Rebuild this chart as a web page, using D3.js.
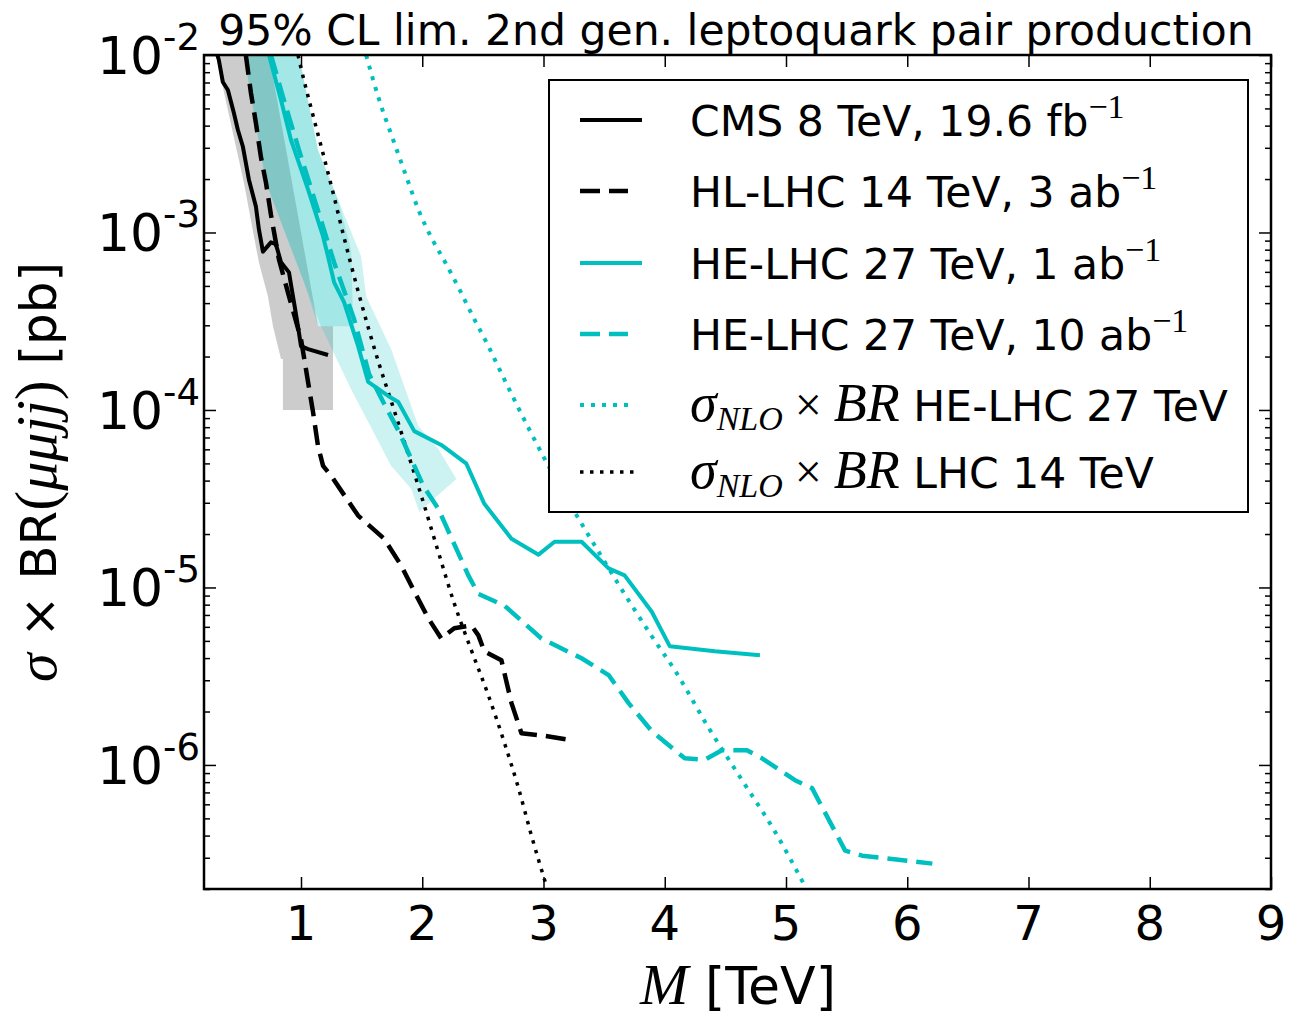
<!DOCTYPE html>
<html><head><meta charset="utf-8">
<script src="https://cdn.jsdelivr.net/npm/d3@7"></script>
<style>body{margin:0;background:#fff}svg{display:block}</style>
</head><body>
<svg id="c" width="1289" height="1016"></svg>
<script>
// ---------- data (M in TeV, sigma x BR in pb) ----------
const cmsMass  = [0.31,0.322,0.355,0.397,0.446,0.479,0.521,0.570,0.628,0.653,0.686,0.752,0.793,0.835,0.901,0.917,0.942,0.975,1.0,1.058,1.223];
const cmsLimit = [1.0e-2,9.4e-3,7.05e-3,6.35e-3,4.72e-3,3.79e-3,3.04e-3,1.99e-3,1.40e-3,1.04e-3,7.8e-4,8.8e-4,8.6e-4,6.8e-4,5.96e-4,5.1e-4,4.05e-4,2.96e-4,2.29e-4,2.20e-4,2.04e-4];

const hlMass  = [0.545,0.587,0.628,0.669,0.711,0.752,0.818,0.901,1.0,1.058,1.099,1.140,1.182,1.248,1.471,1.686,1.826,1.934,2.050,2.157,2.264,2.405,2.463,2.512,2.653,2.736,2.818,3.008,3.231];
const hlLimit = [1.0e-2,6.12e-3,4.15e-3,2.67e-3,1.91e-3,1.26e-3,7.05e-4,4.37e-4,2.51e-4,1.44e-4,9.75e-5,6.28e-5,4.84e-5,4.26e-5,2.54e-5,1.88e-5,1.33e-5,9.5e-6,6.7e-6,5.16e-6,5.89e-6,6.12e-6,5.37e-6,4.37e-6,3.89e-6,2.23e-6,1.51e-6,1.46e-6,1.38e-6];

const he1Mass  = [0.736,0.835,0.917,1.058,1.182,1.223,1.273,1.355,1.471,1.554,1.719,1.802,1.934,2.157,2.364,2.512,2.736,2.959,3.091,3.314,3.537,3.669,3.893,4.041,4.413,4.785];
const he1Limit = [1.0e-2,5.58e-3,3.33e-3,1.75e-3,9.5e-4,7.33e-4,5.24e-4,4.05e-4,2.29e-4,1.44e-4,1.20e-4,1.11e-4,7.6e-5,6.35e-5,4.98e-5,2.96e-5,1.88e-5,1.53e-5,1.81e-5,1.81e-5,1.28e-5,1.17e-5,7.3e-6,4.67e-6,4.37e-6,4.15e-6];

const he10Mass  = [0.752,0.851,0.983,1.124,1.273,1.438,1.562,1.678,1.810,2.008,2.132,2.380,2.463,2.678,2.983,3.314,3.537,3.702,3.893,4.165,4.331,4.471,4.678,4.802,5.074,5.215,5.488,5.628,6.207];
const he10Limit = [1.0e-2,5.81e-3,2.92e-3,1.44e-3,6.78e-4,3.24e-4,1.59e-4,1.11e-4,7.5e-5,3.74e-5,2.78e-5,1.17e-5,9.2e-6,7.9e-6,5.16e-6,3.99e-6,3.21e-6,2.23e-6,1.55e-6,1.09e-6,1.07e-6,1.21e-6,1.21e-6,1.09e-6,8.2e-7,7.4e-7,3.29e-7,3.08e-7,2.78e-7];

const xsec27Mass = [1.537,1.645,1.760,1.868,1.975,2.083,2.190,2.306,2.421,2.537,2.636,2.736,3.041,3.256,3.479,3.702,3.893,4.083,4.364,4.636,4.909,5.157];
const xsec27     = [1.0e-2,5.58e-3,3.33e-3,2.07e-3,1.31e-3,9.14e-4,6.78e-4,4.79e-4,3.33e-4,2.35e-4,1.70e-4,1.23e-4,4.84e-5,2.67e-5,1.49e-5,8.45e-6,5.31e-6,3.42e-6,1.61e-6,8.24e-7,4.21e-7,2.07e-7];

const xsec14Mass = [0.975,1.0,1.083,1.174,1.264,1.355,1.471,1.554,1.645,1.744,1.826,1.992,2.132,2.264,2.405,2.545,2.678,2.793,2.901,3.025];
const xsec14     = [1.0e-2,8.45e-3,5.03e-3,2.92e-3,1.68e-3,9.37e-4,4.67e-4,2.92e-4,1.81e-4,1.12e-4,7.5e-5,3.29e-5,1.59e-5,8.13e-6,4.43e-6,2.47e-6,1.33e-6,7.43e-7,3.99e-7,2.07e-7];

// uncertainty bands (closed outlines)
const cmsBandMass = [0.298,0.438,0.529,0.612,0.653,0.727,0.769,0.835,0.851,0.851,1.264,1.264,1.140,0.736];
const cmsBandVal  = [1.0e-2,3.65e-3,1.91e-3,9.5e-4,6.78e-4,4.37e-4,2.96e-4,1.94e-4,1.94e-4,1.0e-4,1.0e-4,2.96e-4,2.96e-4,1.0e-2];

const heBandAMass = [0.529,0.711,1.025,1.140,1.430,1.413,1.306,1.140,0.983];
const heBandAVal  = [1.0e-2,1.91e-3,5.24e-4,2.96e-4,2.96e-4,8.0e-4,1.53e-3,2.92e-3,1.0e-2];

const heBandBMass = [0.529,0.711,1.025,1.165,1.413,1.744,1.909,1.975,2.281,2.132,1.967,1.744,1.537,1.496,1.306,1.140,0.983];
const heBandBVal  = [1.0e-2,1.91e-3,5.24e-4,2.96e-4,1.31e-4,4.84e-5,3.6e-5,2.67e-5,4.09e-5,6.04e-5,8.13e-5,2.2e-4,4.37e-4,7.33e-4,1.53e-3,2.92e-3,1.0e-2];

const xTicks = [1,2,3,4,5,6,7,8,9];
const yMajor = [1e-6,1e-5,1e-4,1e-3,1e-2];
const yExp   = ["-6","-5","-4","-3","-2"];

const titleText = "95% CL lim. 2nd gen. leptoquark pair production";

// ---------- drawing ----------
const TEAL = "#00bfbf";
const svg = d3.select("#c");
const L = 204, R = 1271, T = 55, B = 889;
const x = d3.scaleLinear().domain([0.2, 9]).range([L, R]);
const y = d3.scaleLog().domain([2e-7, 1e-2]).range([B, T]);
const pts = (xs, ys) => xs.map((v, i) => [v, ys[i]]);
const line = d3.line().x(d => x(d[0])).y(d => y(d[1]));
const smooth = d3.line().x(d => x(d[0])).y(d => y(d[1])).curve(d3.curveMonotoneX);

svg.append("defs").append("clipPath").attr("id", "clip")
  .append("rect").attr("x", L).attr("y", T).attr("width", R - L).attr("height", B - T);
const g = svg.append("g").attr("clip-path", "url(#clip)");

// bands
g.append("path").attr("d", line(pts(cmsBandMass, cmsBandVal)) + "Z").attr("fill", "#808080").attr("fill-opacity", 0.4);
g.append("path").attr("d", line(pts(heBandBMass, heBandBVal)) + "Z").attr("fill", TEAL).attr("fill-opacity", 0.2);
g.append("path").attr("d", line(pts(heBandAMass, heBandAVal)) + "Z").attr("fill", TEAL).attr("fill-opacity", 0.2);

// curves
const curves = [
  {xs: xsec14Mass, ys: xsec14, c: "#000", w: 3.5, dash: "3.5,6.5", gen: smooth},
  {xs: xsec27Mass, ys: xsec27, c: TEAL, w: 4, dash: "4,7", gen: smooth},
  {xs: hlMass, ys: hlLimit, c: "#000", w: 4.5, dash: "20,9", gen: line},
  {xs: he10Mass, ys: he10Limit, c: TEAL, w: 4.5, dash: "20,9", gen: line},
  {xs: cmsMass, ys: cmsLimit, c: "#000", w: 4, dash: null, gen: line},
  {xs: he1Mass, ys: he1Limit, c: TEAL, w: 4, dash: null, gen: line},
];
curves.forEach(cv => {
  const p = g.append("path").attr("d", cv.gen(pts(cv.xs, cv.ys)))
    .attr("fill", "none").attr("stroke", cv.c).attr("stroke-width", cv.w)
    .attr("stroke-linejoin", "round");
  if (cv.dash) p.attr("stroke-dasharray", cv.dash);
});

// axes ticks
const minor = [];
for (let e = -7; e <= -3; e++) for (let m = 2; m <= 9; m++) { const v = m * Math.pow(10, e); if (v >= 2e-7 && v < 1e-2) minor.push(v); }
function strip(sel) { sel.select(".domain").remove(); sel.selectAll("line").attr("stroke", "#000").attr("stroke-width", 1.5); }
svg.append("g").attr("transform", `translate(0,${B})`).call(d3.axisBottom(x).tickValues(xTicks).tickSize(-12).tickFormat("")).call(strip);
svg.append("g").attr("transform", `translate(0,${T})`).call(d3.axisTop(x).tickValues(xTicks).tickSize(-12).tickFormat("")).call(strip);
svg.append("g").attr("transform", `translate(${L},0)`).call(d3.axisLeft(y).tickValues(yMajor).tickSize(-12).tickFormat("")).call(strip);
svg.append("g").attr("transform", `translate(${L},0)`).call(d3.axisLeft(y).tickValues(minor).tickSize(-6).tickFormat("")).call(strip);
svg.append("g").attr("transform", `translate(${R},0)`).call(d3.axisRight(y).tickValues(yMajor).tickSize(-12).tickFormat("")).call(strip);
svg.append("g").attr("transform", `translate(${R},0)`).call(d3.axisRight(y).tickValues(minor).tickSize(-6).tickFormat("")).call(strip);

// frame
svg.append("rect").attr("x", L).attr("y", T).attr("width", R - L).attr("height", B - T)
  .attr("fill", "none").attr("stroke", "#000").attr("stroke-width", 2.5);

const SANS = "DejaVu Sans";
const SERIF = "Liberation Serif";

// tick labels
svg.selectAll(".xl").data(xTicks).enter().append("text")
  .attr("x", d => x(d)).attr("y", 940).attr("text-anchor", "middle")
  .attr("font-family", SANS).attr("font-size", 48).text(d => d);
yMajor.forEach((v, i) => {
  const t = svg.append("text").attr("x", 200).attr("y", y(v) + 19).attr("text-anchor", "end")
    .attr("font-family", SANS);
  t.append("tspan").attr("font-size", 52).text("10");
  t.append("tspan").attr("font-size", 37).attr("dy", -24).text(yExp[i]);
});

// title
svg.append("text").attr("x", 736).attr("y", 45).attr("text-anchor", "middle")
  .attr("font-family", SANS).attr("font-size", 42.5).text(titleText);

// x label
const xl = svg.append("text").attr("x", 738).attr("y", 1004).attr("text-anchor", "middle").attr("font-size", 52);
xl.append("tspan").attr("font-family", SERIF).attr("font-style", "italic").attr("font-size", 58).text("M");
xl.append("tspan").attr("font-family", SANS).text(" [TeV]");

// y label
const yl = svg.append("text").attr("transform", "translate(56,472) rotate(-90)").attr("text-anchor", "middle").attr("font-size", 50);
yl.append("tspan").attr("font-family", SERIF).attr("font-style", "italic").attr("font-size", 58).text("σ");
yl.append("tspan").attr("font-family", SANS).text(" ×  BR");
yl.append("tspan").attr("font-family", SERIF).attr("font-size", 60).text("(");
yl.append("tspan").attr("font-family", SERIF).attr("font-style", "italic").attr("font-size", 58).text("μμjj");
yl.append("tspan").attr("font-family", SERIF).attr("font-size", 60).text(")");
yl.append("tspan").attr("font-family", SANS).text(" [pb]");

// legend
svg.append("rect").attr("x", 549).attr("y", 80).attr("width", 699).attr("height", 432)
  .attr("fill", "#fff").attr("stroke", "#000").attr("stroke-width", 2);
const legendRows = [
  {c: "#000", w: 4, dash: null, len: 62, main: "CMS 8 TeV, 19.6 fb", sup: "−1"},
  {c: "#000", w: 4.5, dash: "20,9", len: 48, main: "HL-LHC 14 TeV, 3 ab", sup: "−1"},
  {c: TEAL, w: 4, dash: null, len: 62, main: "HE-LHC 27 TeV, 1 ab", sup: "−1"},
  {c: TEAL, w: 4.5, dash: "20,9", len: 48, main: "HE-LHC 27 TeV, 10 ab", sup: "−1"},
  {c: TEAL, w: 4, dash: "4,7", len: 55, math: true, main: " HE-LHC 27 TeV"},
  {c: "#000", w: 3.5, dash: "3.5,6.5", len: 55, math: true, main: " LHC 14 TeV"},
];
const rowY = [120, 191, 263, 334, 405, 472];
legendRows.forEach((r, i) => {
  const yy = rowY[i];
  const ln = svg.append("line").attr("x1", 580).attr("x2", 580 + r.len).attr("y1", yy).attr("y2", yy)
    .attr("stroke", r.c).attr("stroke-width", r.w);
  if (r.dash) ln.attr("stroke-dasharray", r.dash);
  const t = svg.append("text").attr("x", 690).attr("y", yy + 16).attr("font-family", SANS).attr("font-size", 42.5);
  if (r.math) {
    t.append("tspan").attr("font-family", SERIF).attr("font-style", "italic").attr("font-size", 54).text("σ");
    t.append("tspan").attr("font-family", SERIF).attr("font-style", "italic").attr("font-size", 34).attr("dy", 9).text("NLO");
    t.append("tspan").attr("font-family", SERIF).attr("font-size", 48).attr("dy", -9).text(" × ");
    t.append("tspan").attr("font-family", SERIF).attr("font-style", "italic").attr("font-size", 54).text("BR");
    t.append("tspan").text(r.main);
  } else {
    t.append("tspan").text(r.main);
    t.append("tspan").attr("font-family", SERIF).attr("font-size", 34).attr("dy", -18).text(r.sup);
  }
});
</script>
</body></html>
